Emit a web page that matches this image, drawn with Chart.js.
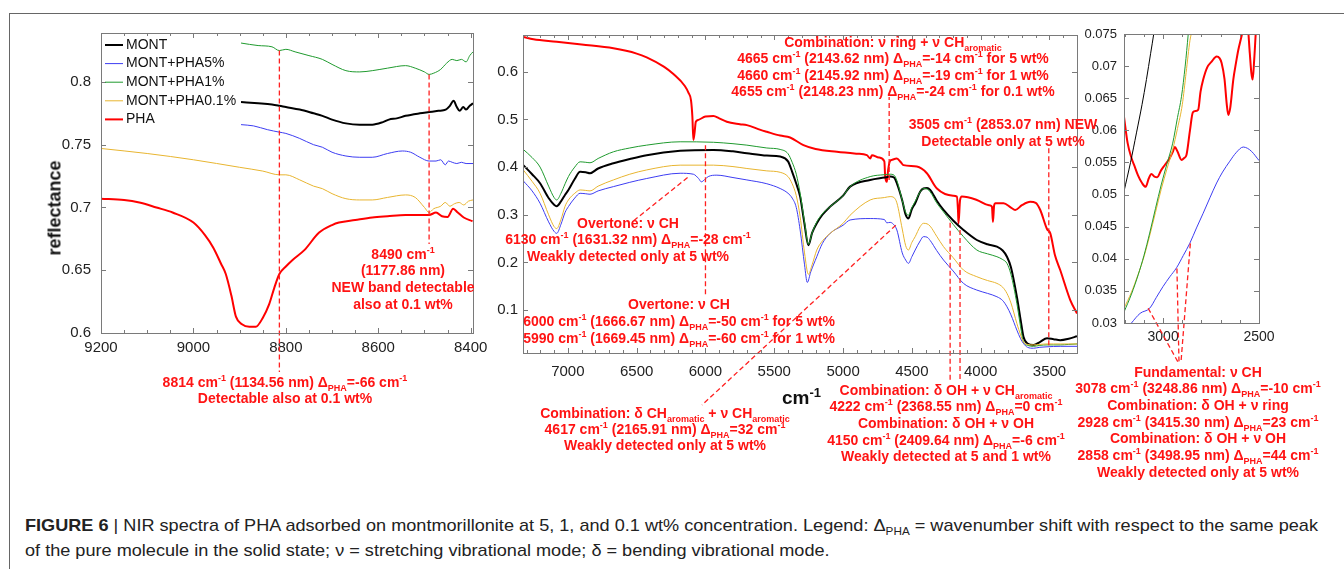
<!DOCTYPE html>
<html>
<head>
<meta charset="utf-8">
<script src="https://cdn.jsdelivr.net/npm/chart.js@4.4.1/dist/chart.umd.min.js"></script>
<style>
body { margin: 0; background: #fff; }
#fig { position: relative; width: 1344px; height: 569px; overflow: hidden; font-family: "Liberation Sans", Arial, sans-serif; }
canvas { position: absolute; left: 0; top: 0; }
.frame { position: absolute; left: 9px; top: 13px; width: 1400px; height: 600px; border-left: 1px solid #666; border-top: 1px solid #666; }
.note { position: absolute; color: #ff1414; font-weight: bold; font-size: 14px; white-space: nowrap; text-align: center; transform: translateX(-50%); }
.note sup, .note sub, .lab sup { font-size: 9px; line-height: 0; }
.lab { position: absolute; font-weight: bold; color: #111; white-space: nowrap; }
.cap { position: absolute; left: 25px; font-size: 17px; color: #222; white-space: nowrap; transform-origin: 0 50%;
       font-family: "Liberation Sans Narrow", "Liberation Sans", Arial, sans-serif; line-height: 20px; }
.cap sub { font-size: 11px; line-height: 0; }
</style>
</head>
<body>
<div id="fig">
  <div class="frame"></div>
  <canvas id="cL" width="1344" height="480"></canvas>
  <canvas id="cM" width="1344" height="480"></canvas>
  <canvas id="cR" width="1344" height="480"></canvas>
  <div id="notes"></div>
  <div class="lab" style="left:55px;top:208px;font-size:18px;transform:translate(-50%,-50%) rotate(-90deg)">reflectance</div>
  <div class="lab" style="left:782px;top:387px;font-size:19px">cm<sup style="font-size:13px">-1</sup></div>
  <div class="cap" id="cap1" style="top:516px"><b>FIGURE 6</b> | NIR spectra of PHA adsorbed on montmorillonite at 5, 1, and 0.1 wt% concentration. Legend: Δ<sub>PHA</sub> = wavenumber shift with respect to the same peak</div>
  <div class="cap" id="cap2" style="top:541px">of the pure molecule in the solid state; ν = stretching vibrational mode; δ = bending vibrational mode.</div>
</div>
<script>
// ---- left panel (9200-8400 cm-1) ----
const phaWnL = [9200, 9150, 9117, 9080, 9045, 9000, 8975, 8957, 8940, 8930, 8918, 8908, 8895, 8879, 8865, 8850, 8836, 8825, 8814, 8800, 8786, 8760, 8728, 8700, 8685, 8650, 8613, 8580, 8541, 8510, 8490, 8475, 8462, 8450, 8438, 8428, 8415, 8396];
const phaL = [0.707, 0.706, 0.704, 0.700, 0.696, 0.688, 0.678, 0.668, 0.655, 0.647, 0.630, 0.613, 0.607, 0.605, 0.605, 0.612, 0.623, 0.636, 0.647, 0.653, 0.658, 0.666, 0.680, 0.686, 0.688, 0.690, 0.692, 0.693, 0.694, 0.694, 0.694, 0.696, 0.693, 0.6925, 0.699, 0.696, 0.692, 0.689];
const montWnL = [8897, 8860, 8830, 8814, 8800, 8770, 8740, 8721, 8700, 8670, 8640, 8613, 8590, 8577, 8560, 8541, 8510, 8490, 8470, 8454, 8445, 8437, 8430, 8424, 8416, 8410, 8402, 8395];
const montL = [0.784, 0.783, 0.782, 0.781, 0.780, 0.778, 0.775, 0.773, 0.770, 0.767, 0.766, 0.766, 0.768, 0.770, 0.771, 0.773, 0.775, 0.776, 0.777, 0.778, 0.781, 0.785, 0.780, 0.777, 0.780, 0.778, 0.781, 0.783];
const p5WnL = [8897, 8870, 8840, 8814, 8800, 8770, 8740, 8721, 8700, 8670, 8640, 8613, 8580, 8548, 8530, 8510, 8490, 8475, 8465, 8455, 8448, 8440, 8430, 8420, 8410, 8395];
const p5L = [0.766, 0.765, 0.762, 0.760, 0.759, 0.755, 0.750, 0.748, 0.744, 0.741, 0.740, 0.740, 0.743, 0.745, 0.744, 0.740, 0.737, 0.737, 0.738, 0.734, 0.737, 0.736, 0.735, 0.736, 0.735, 0.735];
const p1WnL = [8897, 8860, 8830, 8814, 8800, 8780, 8750, 8721, 8700, 8670, 8640, 8613, 8580, 8541, 8520, 8500, 8490, 8480, 8465, 8452, 8440, 8430, 8420, 8410, 8402, 8395];
const p1L = [0.831, 0.829, 0.828, 0.825, 0.826, 0.824, 0.821, 0.818, 0.814, 0.809, 0.808, 0.809, 0.811, 0.813, 0.811, 0.808, 0.806, 0.807, 0.810, 0.815, 0.818, 0.817, 0.818, 0.816, 0.821, 0.824];
const p01WnL = [9200, 9100, 9000, 8900, 8850, 8814, 8800, 8770, 8740, 8721, 8700, 8670, 8640, 8613, 8580, 8541, 8520, 8500, 8490, 8480, 8465, 8455, 8445, 8435, 8425, 8415, 8405, 8395];
const p01L = [0.747, 0.743, 0.738, 0.732, 0.729, 0.726, 0.726, 0.722, 0.717, 0.715, 0.711, 0.707, 0.706, 0.706, 0.708, 0.710, 0.708, 0.700, 0.696, 0.699, 0.701, 0.704, 0.701, 0.703, 0.704, 0.702, 0.705, 0.706];
const xTicksL = [9200, 9000, 8800, 8600, 8400];
const xLabelsL = ['9200', '9000', '8800', '8600', '8400'];
const yTicksL = [0.6, 0.65, 0.7, 0.75, 0.8];
const yLabelsL = ['0.6', '0.65', '0.7', '0.75', '0.8'];

// ---- middle panel (7300-3300 cm-1) ----
const phaWnM = [7324, 7250, 7081, 6900, 6669, 6500, 6427, 6300, 6233, 6150, 6124, 6105, 6095, 6088, 6080, 6070, 6051, 6000, 5942, 5900, 5845, 5750, 5699, 5600, 5554, 5457, 5385, 5288, 5200, 5045, 4900, 4827, 4803, 4790, 4740, 4700, 4694, 4682, 4672, 4660, 4645, 4609, 4580, 4561, 4464, 4391, 4318, 4200, 4173, 4165, 4161, 4150, 4137, 4028, 3940, 3918, 3911, 3902, 3894, 3834, 3780, 3749, 3700, 3640, 3600, 3567, 3518, 3494, 3460, 3422, 3349, 3300];
const phaM = [0.673, 0.668, 0.663, 0.657, 0.649, 0.638, 0.630, 0.610, 0.595, 0.570, 0.556, 0.540, 0.505, 0.457, 0.470, 0.495, 0.499, 0.506, 0.507, 0.502, 0.495, 0.490, 0.488, 0.478, 0.474, 0.466, 0.462, 0.446, 0.438, 0.432, 0.428, 0.425, 0.418, 0.425, 0.420, 0.412, 0.380, 0.369, 0.395, 0.412, 0.415, 0.418, 0.410, 0.404, 0.401, 0.387, 0.355, 0.340, 0.338, 0.310, 0.282, 0.330, 0.338, 0.331, 0.320, 0.317, 0.285, 0.320, 0.324, 0.324, 0.315, 0.310, 0.320, 0.327, 0.325, 0.310, 0.270, 0.261, 0.215, 0.184, 0.121, 0.093];
const clayWnM = [7324, 7260, 7202, 7140, 7100, 7081, 7050, 7020, 6996, 6950, 6911, 6870, 6839, 6780, 6669, 6550, 6427, 6184, 5942, 5800, 5699, 5554, 5457, 5400, 5370, 5340, 5312, 5280, 5252, 5225, 5191, 5150, 5094, 5000, 4949, 4803, 4700, 4658, 4630, 4609, 4570, 4545, 4525, 4500, 4476, 4440, 4416, 4390, 4367, 4320, 4270, 4200, 4125, 4028, 3950, 3882, 3840, 3809, 3780, 3737, 3710, 3689, 3660, 3616, 3570, 3518, 3470, 3422, 3360, 3300];
const montM = [0.404, 0.385, 0.366, 0.335, 0.321, 0.318, 0.328, 0.342, 0.352, 0.375, 0.390, 0.389, 0.387, 0.397, 0.408, 0.417, 0.425, 0.434, 0.436, 0.433, 0.429, 0.424, 0.422, 0.412, 0.390, 0.365, 0.338, 0.280, 0.236, 0.262, 0.282, 0.300, 0.317, 0.340, 0.359, 0.373, 0.378, 0.380, 0.378, 0.366, 0.330, 0.300, 0.292, 0.312, 0.324, 0.348, 0.355, 0.356, 0.352, 0.330, 0.310, 0.288, 0.268, 0.247, 0.238, 0.233, 0.225, 0.212, 0.190, 0.128, 0.080, 0.044, 0.030, 0.027, 0.033, 0.041, 0.039, 0.037, 0.040, 0.045];
const p1M = [0.437, 0.420, 0.400, 0.360, 0.336, 0.331, 0.345, 0.365, 0.380, 0.400, 0.411, 0.410, 0.409, 0.418, 0.432, 0.440, 0.446, 0.453, 0.452, 0.449, 0.446, 0.440, 0.437, 0.428, 0.410, 0.385, 0.345, 0.285, 0.238, 0.262, 0.285, 0.302, 0.317, 0.340, 0.359, 0.380, 0.384, 0.385, 0.383, 0.372, 0.330, 0.305, 0.299, 0.315, 0.328, 0.348, 0.355, 0.354, 0.348, 0.325, 0.306, 0.280, 0.254, 0.226, 0.218, 0.212, 0.206, 0.198, 0.175, 0.114, 0.065, 0.033, 0.026, 0.024, 0.026, 0.027, 0.027, 0.027, 0.028, 0.029];
const p01M = [0.394, 0.370, 0.345, 0.300, 0.275, 0.271, 0.290, 0.318, 0.331, 0.345, 0.352, 0.351, 0.350, 0.360, 0.373, 0.385, 0.394, 0.404, 0.404, 0.401, 0.397, 0.392, 0.389, 0.380, 0.365, 0.340, 0.296, 0.220, 0.175, 0.195, 0.226, 0.245, 0.261, 0.282, 0.299, 0.331, 0.336, 0.338, 0.336, 0.325, 0.270, 0.235, 0.226, 0.242, 0.254, 0.275, 0.282, 0.281, 0.276, 0.255, 0.233, 0.210, 0.184, 0.170, 0.162, 0.156, 0.148, 0.135, 0.115, 0.072, 0.048, 0.033, 0.028, 0.027, 0.028, 0.029, 0.029, 0.029, 0.029, 0.029];
const p5WnM = [7324, 7260, 7202, 7140, 7100, 7081, 7050, 7020, 6996, 6950, 6911, 6870, 6839, 6780, 6669, 6550, 6427, 6184, 6088, 6050, 6030, 6005, 5980, 5917, 5800, 5699, 5554, 5457, 5400, 5370, 5340, 5312, 5280, 5260, 5235, 5191, 5150, 5094, 5000, 4949, 4803, 4700, 4682, 4658, 4634, 4609, 4570, 4545, 4525, 4500, 4476, 4440, 4416, 4390, 4367, 4320, 4270, 4200, 4125, 4028, 3950, 3882, 3840, 3809, 3780, 3737, 3710, 3689, 3660, 3616, 3570, 3518, 3422, 3300];
const p5M = [0.371, 0.350, 0.324, 0.285, 0.265, 0.261, 0.280, 0.305, 0.317, 0.335, 0.345, 0.344, 0.343, 0.350, 0.359, 0.368, 0.376, 0.387, 0.385, 0.376, 0.369, 0.374, 0.380, 0.383, 0.378, 0.373, 0.365, 0.355, 0.345, 0.335, 0.315, 0.268, 0.195, 0.158, 0.180, 0.212, 0.240, 0.261, 0.278, 0.289, 0.292, 0.290, 0.283, 0.284, 0.280, 0.268, 0.220, 0.205, 0.198, 0.212, 0.226, 0.245, 0.254, 0.253, 0.246, 0.225, 0.205, 0.182, 0.156, 0.142, 0.135, 0.128, 0.120, 0.107, 0.090, 0.058, 0.040, 0.030, 0.022, 0.020, 0.022, 0.023, 0.024, 0.024];
const xTicksM = [7000, 6500, 6000, 5500, 5000, 4500, 4000, 3500];
const xLabelsM = ['7000', '6500', '6000', '5500', '5000', '4500', '4000', '3500'];
const yTicksM = [0.1, 0.2, 0.3, 0.4, 0.5, 0.6];
const yLabelsM = ['0.1', '0.2', '0.3', '0.4', '0.5', '0.6'];

// ---- right inset (3200-2500 cm-1) ----
const montWnR = [3204, 3170, 3139, 3110, 3087, 3065, 3049, 3035];
const montR = [0.0505, 0.0550, 0.0596, 0.0640, 0.0679, 0.0720, 0.0750, 0.0780];
const p1WnR = [3204, 3165, 3130, 3100, 3070, 3040, 3010, 2980, 2950, 2925, 2904, 2885, 2869, 2860];
const p1R = [0.0317, 0.0345, 0.0375, 0.0405, 0.0440, 0.0478, 0.0515, 0.0548, 0.0580, 0.0620, 0.0653, 0.0700, 0.0750, 0.0780];
const p01WnR = [3204, 3165, 3130, 3100, 3070, 3040, 3010, 2980, 2950, 2925, 2900, 2880, 2860, 2847, 2840];
const p01R = [0.0323, 0.0348, 0.0376, 0.0403, 0.0436, 0.0472, 0.0508, 0.0540, 0.0570, 0.0603, 0.0640, 0.0690, 0.0740, 0.0760, 0.0780];
const p5WnR = [3204, 3165, 3120, 3070, 3035, 3000, 2965, 2930, 2895, 2861, 2826, 2791, 2756, 2721, 2690, 2652, 2620, 2582, 2560, 2538, 2500];
const p5R = [0.0285, 0.0300, 0.0315, 0.0323, 0.0340, 0.0357, 0.0372, 0.0386, 0.0405, 0.0424, 0.0448, 0.0471, 0.0495, 0.0518, 0.0535, 0.0552, 0.0565, 0.0574, 0.0572, 0.0567, 0.0553];
const phaWnR = [3204, 3185, 3165, 3150, 3131, 3110, 3091, 3075, 3061, 3045, 3031, 3010, 2991, 2965, 2950, 2939, 2925, 2904, 2890, 2878, 2860, 2845, 2830, 2817, 2805, 2791, 2770, 2747, 2721, 2705, 2695, 2680, 2668, 2660, 2650, 2634, 2620, 2608, 2590, 2575, 2560, 2548, 2540, 2533, 2525, 2515, 2500];
const phaR = [0.0621, 0.0580, 0.0557, 0.0545, 0.0530, 0.0518, 0.0512, 0.0525, 0.0532, 0.0528, 0.0527, 0.0538, 0.0546, 0.0557, 0.0566, 0.0574, 0.0567, 0.0554, 0.0557, 0.0562, 0.0600, 0.0628, 0.0630, 0.0632, 0.0660, 0.0679, 0.0698, 0.0707, 0.0715, 0.0712, 0.0705, 0.0680, 0.0640, 0.0624, 0.0635, 0.0679, 0.0705, 0.0725, 0.0748, 0.0770, 0.0765, 0.0720, 0.0690, 0.0679, 0.0710, 0.0760, 0.0800];
const xTicksR = [3000, 2500];
const xLabelsR = ['3000', '2500'];
const yTicksR = [0.03, 0.035, 0.04, 0.045, 0.05, 0.055, 0.06, 0.065, 0.07, 0.075];
const yLabelsR = ['0.03', '0.035', '0.04', '0.045', '0.05', '0.055', '0.06', '0.065', '0.07', '0.075'];

const RED = '#ff0000', BLACK = '#000000', BLUE = '#3d3df2', GREEN = '#1f9a2e', GOLD = '#e8b530';
const FONT = '"Liberation Sans", Arial, sans-serif';

function series(label, wn, r, color, w) {
  return {
    label: label, data: wn.map((v, i) => ({ x: v, y: r[i] })),
    borderColor: color, borderWidth: w, pointRadius: 0, fill: false,
    cubicInterpolationMode: 'monotone'
  };
}

function axis(min, max, ticks, labels, o) {
  return {
    type: 'linear', min: min, max: max, reverse: !!o.reverse,
    grid: { display: false, drawTicks: false }, border: { display: false },
    afterBuildTicks: s => { s.ticks = ticks.map(v => ({ value: v })); },
    afterFit: s => { if (o.w) s.width = o.w; if (o.h) s.height = o.h; },
    ticks: { autoSkip: false, maxRotation: 0, padding: o.pad, color: '#222',
             font: { family: FONT, size: o.size }, callback: (v, i) => labels[i] }
  };
}

// box + inward tick marks (major and minor)
const framePlugin = {
  id: 'frame',
  afterDraw(chart, args, o) {
    const { ctx, chartArea: a, scales: { x, y } } = chart;
    const seg = (x1, y1, x2, y2) => { ctx.beginPath(); ctx.moveTo(x1, y1); ctx.lineTo(x2, y2); ctx.stroke(); };
    ctx.save();
    ctx.strokeStyle = '#7a7a7a';
    ctx.lineWidth = 1;
    ctx.strokeRect(Math.round(a.left) + 0.5, Math.round(a.top) + 0.5, Math.round(a.width), Math.round(a.height));
    const xmark = (v, len) => { const p = Math.round(x.getPixelForValue(v)) + 0.5; seg(p, a.bottom, p, a.bottom - len); seg(p, a.top, p, a.top + len); };
    const ymark = (v, len) => { const p = Math.round(y.getPixelForValue(v)) + 0.5; seg(a.left, p, a.left + len, p); seg(a.right, p, a.right - len, p); };
    x.ticks.forEach(t => xmark(t.value, 5));
    y.ticks.forEach(t => ymark(t.value, 5));
    if (o.mx) for (let v = Math.ceil(x.min / o.mx) * o.mx; v <= x.max; v += o.mx) xmark(v, 3);
    ctx.restore();
  }
};

// dashed red leaders from a spectral feature to its note
const leaderPlugin = {
  id: 'leaders',
  afterDatasetsDraw(chart, args, o) {
    if (!o.items) return;
    const { ctx, scales: { x, y } } = chart;
    ctx.save();
    ctx.strokeStyle = '#ff2020';
    ctx.lineWidth = 1.3;
    ctx.setLineDash([5, 3]);
    o.items.forEach(it => {
      const px = x.getPixelForValue(it.wn), py = y.getPixelForValue(it.r);
      ctx.beginPath();
      ctx.moveTo(px, py);
      ctx.lineTo(it.tx == null ? px : it.tx, it.ty);
      ctx.stroke();
    });
    ctx.restore();
  }
};

// legend drawn inside the plot, MATLAB style
const inLegend = {
  id: 'inlegend',
  afterDraw(chart, args, o) {
    if (!o.show) return;
    const { ctx, chartArea: a } = chart;
    ctx.save();
    ctx.font = '14px ' + FONT;
    ctx.textBaseline = 'middle';
    o.order.forEach((k, i) => {
      const d = chart.data.datasets[k];
      const yy = a.top + 12 + i * 18.6;
      ctx.strokeStyle = d.borderColor;
      ctx.lineWidth = d.borderWidth;
      ctx.beginPath(); ctx.moveTo(a.left + 4, yy); ctx.lineTo(a.left + 22, yy); ctx.stroke();
      ctx.fillStyle = '#111';
      ctx.fillText(d.label, a.left + 25, yy);
    });
    ctx.restore();
  }
};

Chart.register(framePlugin, leaderPlugin, inLegend);

function makeChart(id, pad, sx, sy, datasets, plug) {
  return new Chart(document.getElementById(id), {
    type: 'line',
    data: { datasets: datasets },
    options: {
      responsive: false, animation: false, events: [],
      layout: { padding: pad },
      scales: { x: sx, y: sy },
      plugins: Object.assign({ legend: { display: false }, tooltip: { enabled: false } }, plug)
    }
  });
}

makeChart('cL', { left: 51, right: 871, top: 33, bottom: 117 },
  axis(8395, 9200, xTicksL, xLabelsL, { reverse: true, h: 30, pad: 6, size: 15 }),
  axis(0.6, 0.839, yTicksL, yLabelsL, { w: 50, pad: 10, size: 15 }),
  [
    series('MONT+PHA0.1%', p01WnL, p01L, GOLD, 1),
    series('MONT+PHA5%', p5WnL, p5L, BLUE, 1),
    series('MONT+PHA1%', p1WnL, p1L, GREEN, 1),
    series('MONT', montWnL, montL, BLACK, 2),
    series('PHA', phaWnL, phaL, RED, 2)
  ],
  {
    frame: { mx: 50 },
    inlegend: { show: true, order: [3, 1, 2, 0, 4] },
    leaders: { items: [ { wn: 8814, r: 0.825, ty: 372 }, { wn: 8490, r: 0.806, ty: 244 } ] }
  });

makeChart('cM', { left: 473, right: 267, top: 35, bottom: 97 },
  axis(3300, 7326, xTicksM, xLabelsM, { reverse: true, h: 30, pad: 10, size: 15 }),
  axis(0.01, 0.677, yTicksM, yLabelsM, { w: 50, pad: 5, size: 15 }),
  [
    series('MONT+PHA0.1%', clayWnM, p01M, GOLD, 1),
    series('MONT+PHA5%', p5WnM, p5M, BLUE, 1),
    series('MONT+PHA1%', clayWnM, p1M, GREEN, 1),
    series('MONT', clayWnM, montM, BLACK, 2),
    series('PHA', phaWnM, phaM, RED, 2)
  ],
  {
    frame: { mx: 100 },
    leaders: { items: [
      { wn: 6130, r: 0.378, tx: 632, ty: 222 },
      { wn: 6000, r: 0.446, ty: 297 },
      { wn: 4617, r: 0.278, tx: 702, ty: 405 },
      { wn: 4665, r: 0.373, ty: 97 },
      { wn: 4222, r: 0.283, ty: 381 },
      { wn: 4150, r: 0.268, ty: 381 },
      { wn: 3505, r: 0.026, ty: 148 }
    ] }
  });

makeChart('cR', { left: 1074, right: 85, top: 34, bottom: 127 },
  axis(2500, 3204, xTicksR, xLabelsR, { reverse: true, h: 30, pad: 6, size: 14 }),
  axis(0.03, 0.075, yTicksR, yLabelsR, { w: 50, pad: 7, size: 13 }),
  [
    series('MONT', montWnR, montR, BLACK, 1),
    series('MONT+PHA1%', p1WnR, p1R, GREEN, 1),
    series('MONT+PHA0.1%', p01WnR, p01R, GOLD, 1),
    series('MONT+PHA5%', p5WnR, p5R, BLUE, 1),
    series('PHA', phaWnR, phaR, RED, 2)
  ],
  {
    frame: { mx: 100 },
    leaders: { items: [
      { wn: 3078, r: 0.0323, tx: 1178, ty: 362 },
      { wn: 2928, r: 0.0385, tx: 1179, ty: 362 },
      { wn: 2858, r: 0.0424, tx: 1181, ty: 362 }
    ] }
  });

// annotation texts
const cm = 'cm<sup>-1</sup>', dp = 'Δ<sub>PHA</sub>', ar = '<sub>aromatic</sub>';
const notes = [
  { x: 403, y: 254, lh: 16.8, lines: ['8490 ' + cm, '(1177.86 nm)', 'NEW band detectable', 'also at 0.1 wt%'] },
  { x: 285, y: 382, lh: 16.5, lines: ['8814 ' + cm + ' (1134.56 nm) ' + dp + '=-66 ' + cm, 'Detectable also at 0.1 wt%'] },
  { x: 628, y: 223, lh: 16.8, lines: ['Overtone: ν CH', '6130 ' + cm + ' (1631.32 nm) ' + dp + '=-28 ' + cm, 'Weakly detected only at 5 wt%'] },
  { x: 679, y: 304, lh: 17, lines: ['Overtone: ν CH', '6000 ' + cm + ' (1666.67 nm) ' + dp + '=-50 ' + cm + ' for 5 wt%', '5990 ' + cm + ' (1669.45 nm) ' + dp + '=-60 ' + cm + ' for 1 wt%'] },
  { x: 893, y: 42, lh: 16.6, lines: ['Combination: ν ring + ν CH' + ar, '4665 ' + cm + ' (2143.62 nm) ' + dp + '=-14 ' + cm + ' for 5 wt%', '4660 ' + cm + ' (2145.92 nm) ' + dp + '=-19 ' + cm + ' for 1 wt%', '4655 ' + cm + ' (2148.23 nm) ' + dp + '=-24 ' + cm + ' for 0.1 wt%'] },
  { x: 1003, y: 124, lh: 17, lines: ['3505 ' + cm + ' (2853.07 nm) NEW', 'Detectable only at 5 wt%'] },
  { x: 665, y: 413, lh: 16.2, lines: ['Combination: δ CH' + ar + ' + ν CH' + ar, '4617 ' + cm + ' (2165.91 nm) ' + dp + '=32 ' + cm, 'Weakly detected only at 5 wt%'] },
  { x: 946, y: 390, lh: 16.7, lines: ['Combination: δ OH + ν CH' + ar, '4222 ' + cm + ' (2368.55 nm) ' + dp + '=0 ' + cm, 'Combination: δ OH + ν OH', '4150 ' + cm + ' (2409.64 nm) ' + dp + '=-6 ' + cm, 'Weakly detected at 5 and 1 wt%'] },
  { x: 1198, y: 372, lh: 16.7, lines: ['Fundamental: ν CH', '3078 ' + cm + ' (3248.86 nm) ' + dp + '=-10 ' + cm, 'Combination: δ OH + ν ring', '2928 ' + cm + ' (3415.30 nm) ' + dp + '=23 ' + cm, 'Combination: δ OH + ν OH', '2858 ' + cm + ' (3498.95 nm) ' + dp + '=44 ' + cm, 'Weakly detected only at 5 wt%'] }
];
const box = document.getElementById('notes');
notes.forEach(n => {
  const d = document.createElement('div');
  d.className = 'note';
  d.style.left = n.x + 'px';
  d.style.top = (n.y - n.lh / 2) + 'px';
  d.style.lineHeight = n.lh + 'px';
  d.innerHTML = n.lines.join('<br>');
  box.appendChild(d);
});

// squeeze the caption to the printed width
const c1 = document.getElementById('cap1'), c2 = document.getElementById('cap2');
const k = 1293 / c1.getBoundingClientRect().width;
c1.style.transform = c2.style.transform = 'scaleX(' + k + ')';
</script>
</body>
</html>
